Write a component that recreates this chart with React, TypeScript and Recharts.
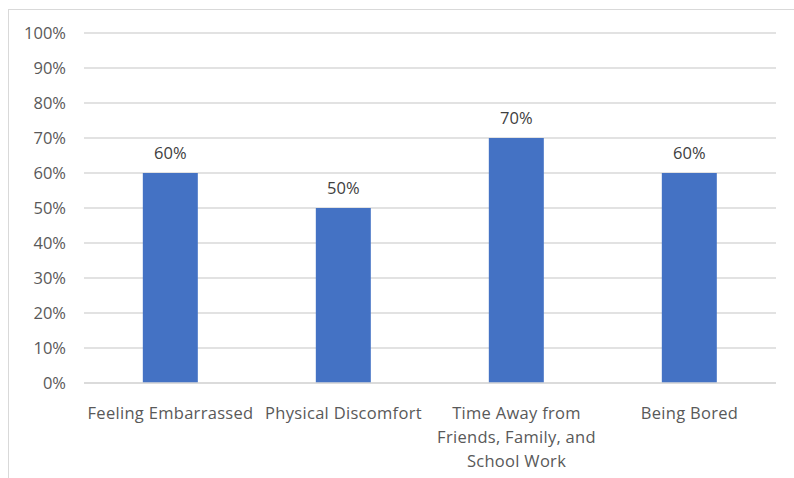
import { Bar, BarChart, CartesianGrid, LabelList, XAxis, YAxis } from 'recharts';

const categories = [
  'Feeling Embarrassed',
  'Physical Discomfort',
  'Time Away from Friends, Family, and School Work',
  'Being Bored',
];
const shares = [60, 50, 70, 60];
const yTicks = [0, 10, 20, 30, 40, 50, 60, 70, 80, 90, 100];

// long category names are broken onto several lines under the axis
const tickLines: Record<string, string[]> = {
  'Time Away from Friends, Family, and School Work': ['Time Away from', 'Friends, Family, and', 'School Work'],
};

const data = categories.map((name, i) => ({ name, value: shares[i] }));

const FONT = '"Open Sans", sans-serif';

function CategoryTick({ x, y, payload }: any) {
  const lines = tickLines[payload.value] ?? [payload.value];
  return (
    <text
      x={x}
      y={y + 28}
      textAnchor="middle"
      fill="#595959"
      fontSize={16.5}
      fontFamily={FONT}
      letterSpacing={0.3}
    >
      {lines.map((line, i) => (
        <tspan key={i} x={x} dy={i === 0 ? 0 : 24}>
          {line}
        </tspan>
      ))}
    </text>
  );
}

export default function App() {
  return (
    <div style={{ position: 'fixed', left: 0, top: 0, width: 794, height: 478, overflow: 'hidden', background: '#fff' }}>
      <div
        style={{
          position: 'absolute',
          left: 8,
          top: 9,
          width: 800,
          height: 480,
          border: '1px solid #d9d9d9',
          boxSizing: 'border-box',
        }}
      />
      <BarChart
        width={794}
        height={478}
        data={data}
        margin={{ top: 33, right: 18, bottom: 0, left: 1 }}
        barCategoryGap="34%"
        style={{ position: 'absolute', left: 0, top: 0 }}
      >
        <CartesianGrid vertical={false} stroke="#d9d9d9" strokeWidth={1.5} />
        <XAxis
          dataKey="name"
          height={95}
          axisLine={{ stroke: '#d9d9d9', strokeWidth: 1.5 }}
          tickLine={false}
          interval={0}
          tick={<CategoryTick />}
        />
        <YAxis
          width={83}
          domain={[0, 100]}
          ticks={yTicks}
          axisLine={false}
          tickLine={false}
          tickMargin={12}
          tickFormatter={(v: number) => `${v}%`}
          tick={{ fill: '#595959', fontSize: 16.5, fontFamily: FONT }}
        />
        <Bar dataKey="value" fill="#4472c4" isAnimationActive={false}>
          <LabelList
            dataKey="value"
            position="top"
            offset={14}
            formatter={(v: any) => `${v}%`}
            fill="#404040"
            fontSize={16.5}
            fontFamily={FONT}
          />
        </Bar>
      </BarChart>
    </div>
  );
}
